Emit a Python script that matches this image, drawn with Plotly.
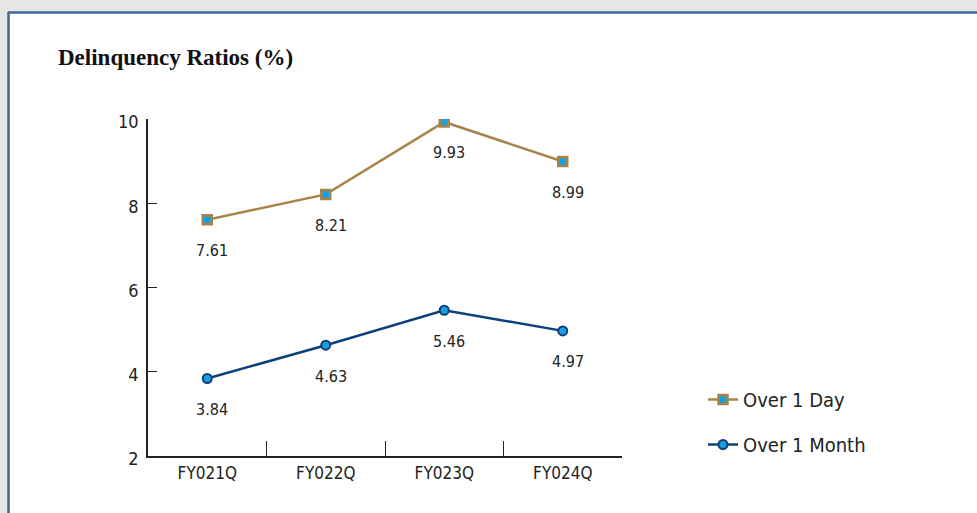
import plotly.graph_objects as go

# Delinquency ratios by fiscal quarter
quarters = ["FY021Q", "FY022Q", "FY023Q", "FY024Q"]
over_1_day = [7.61, 8.21, 9.93, 8.99]
over_1_month = [3.84, 4.63, 5.46, 4.97]
y_ticks = [2, 4, 6, 8, 10]

W, H = 977, 513
L, R, T, B = 148, 355, 119, 57
plot_w = W - L - R
plot_h = H - T - B


def px_x(p):
    return (p - L) / plot_w


def px_y(p):
    return (H - B - p) / plot_h


GOLD = "#a8844c"
NAVY = "#0d3f7a"
CYAN = "#1a9fdc"
NARROW = "DejaVu Sans Condensed, sans-serif"

fig = go.Figure()

fig.add_trace(go.Scatter(
    x=quarters, y=over_1_day, name="Over 1 Day", mode="lines+markers",
    line=dict(color=GOLD, width=2.5),
    marker=dict(symbol="square", size=9, color=CYAN, line=dict(color=GOLD, width=2.5)),
    legendgroup="a",
))
fig.add_trace(go.Scatter(
    x=quarters, y=over_1_month, name="Over 1 Month", mode="lines+markers",
    line=dict(color=NAVY, width=2.5),
    marker=dict(symbol="circle", size=9, color=CYAN, line=dict(color=NAVY, width=2)),
    legendgroup="b",
))

# value labels under each point
for series in (over_1_day, over_1_month):
    for q, v in zip(quarters, series):
        fig.add_annotation(
            x=q, y=v, text=f"{v:.2f}", showarrow=False,
            xshift=5, yshift=-31,
            font=dict(family=NARROW, size=16, color="#222222"),
        )

# white card with blue top/left edges on a grey page
fig.add_shape(type="rect", xref="paper", yref="paper",
              x0=px_x(9), x1=px_x(W + 5), y0=px_y(H + 5), y1=px_y(13),
              fillcolor="white", line=dict(width=0), layer="below")
fig.add_shape(type="line", xref="paper", yref="paper",
              x0=px_x(8), x1=px_x(W + 5), y0=px_y(12.5), y1=px_y(12.5),
              line=dict(color="#3f6897", width=2.5))
fig.add_shape(type="line", xref="paper", yref="paper",
              x0=px_x(8.5), x1=px_x(8.5), y0=px_y(12), y1=px_y(H + 5),
              line=dict(color="#3f6897", width=2.5))

fig.add_annotation(
    xref="paper", yref="paper", x=px_x(56), y=px_y(57),
    xanchor="left", yanchor="middle", showarrow=False,
    text="<b>Delinquency Ratios (%)</b>",
    font=dict(family="Liberation Serif, Times New Roman, serif", size=23, color="#111111"),
)

fig.update_layout(
    width=W, height=H,
    margin=dict(l=L, r=R, t=T, b=B, pad=0),
    paper_bgcolor="#e6e6e6",
    plot_bgcolor="rgba(0,0,0,0)",
    showlegend=True,
    legend=dict(
        x=px_x(703), y=px_y(380), xanchor="left", yanchor="top",
        font=dict(family=NARROW, size=20, color="#222222"),
        bgcolor="rgba(0,0,0,0)", tracegroupgap=16,
    ),
    xaxis=dict(
        type="category", range=[-0.5, 3.5],
        showline=True, linecolor="#222222", linewidth=1.5,
        ticks="inside", ticklen=15, tickcolor="#222222", tickwidth=1,
        tickson="boundaries", showgrid=False, zeroline=False,
        tickfont=dict(family=NARROW, size=17, color="#222222"),
        ticklabelstandoff=1,
    ),
    yaxis=dict(
        range=[2, 10], tickvals=y_ticks,
        showline=True, linecolor="#222222", linewidth=1.5,
        ticks="inside", ticklen=9, tickcolor="#222222", tickwidth=1,
        showgrid=False, zeroline=False,
        tickfont=dict(family=NARROW, size=18, color="#222222"),
        ticklabelstandoff=4, ticklabelshift=3,
    ),
)

fig.write_html("out.html")
